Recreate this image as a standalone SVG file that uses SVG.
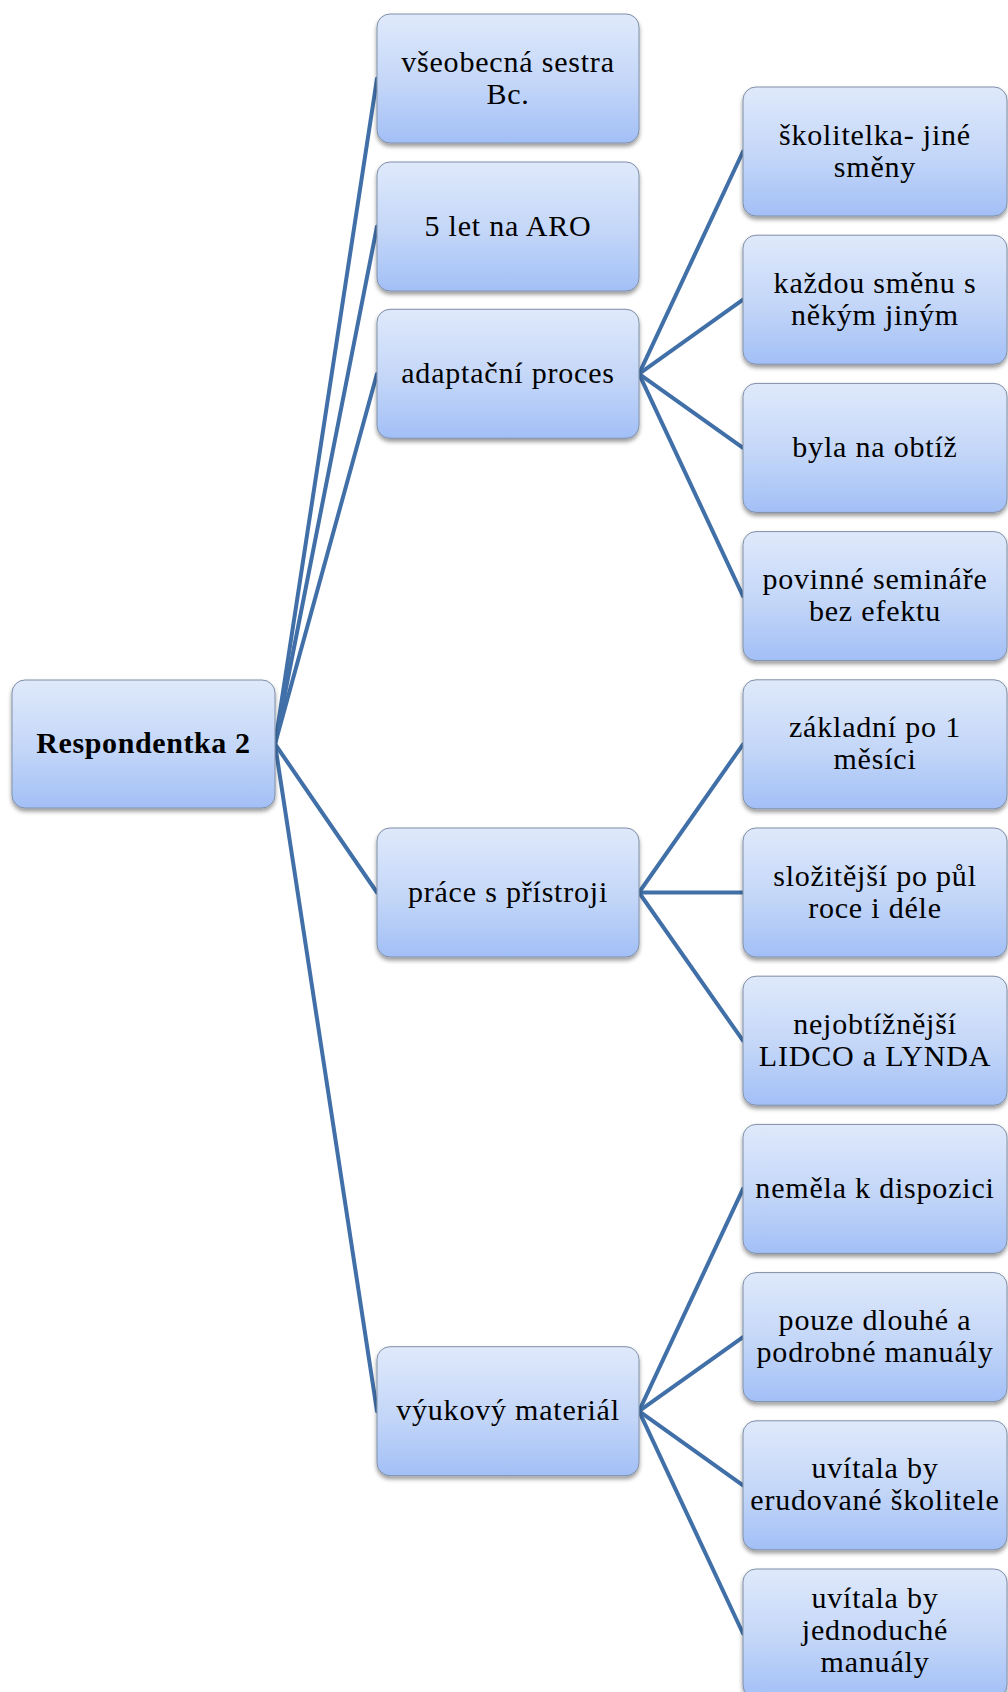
<svg xmlns="http://www.w3.org/2000/svg" width="1008" height="1692" viewBox="0 0 1008 1692">
  <defs>
    <linearGradient id="boxFill" x1="0" y1="0" x2="0" y2="1">
      <stop offset="0" stop-color="#dfe9fb"/>
      <stop offset="0.55" stop-color="#c3d6f8"/>
      <stop offset="1" stop-color="#a2bff6"/>
    </linearGradient>
    <filter id="shadow" x="-10%" y="-10%" width="120%" height="130%">
      <feDropShadow dx="0" dy="3" stdDeviation="2.2" flood-color="#000" flood-opacity="0.4"/>
    </filter>
  </defs>
  <style>
    .box { fill: url(#boxFill); stroke: #8090a8; stroke-width: 1; filter: url(#shadow); }
    .lbl { font-family: "Liberation Serif", "Times New Roman", serif; font-size: 30px; letter-spacing: 0.8px; fill: #000; text-anchor: middle; }
    .root { font-weight: bold; letter-spacing: 0.6px; }
    .edge { stroke: #4170a8; stroke-width: 4; fill: none; stroke-linecap: round; }
  </style>
  <rect width="1008" height="1692" fill="#fff"/>

  <!-- connectors -->
  <g id="connectors">
    <line class="edge" x1="275" y1="744" x2="377" y2="78.5"/>
    <line class="edge" x1="275" y1="744" x2="377" y2="226.5"/>
    <line class="edge" x1="275" y1="744" x2="377" y2="373.8"/>
    <line class="edge" x1="275" y1="744" x2="377" y2="892.5"/>
    <line class="edge" x1="275" y1="744" x2="377" y2="1411.2"/>

    <line class="edge" x1="639" y1="373.8" x2="743" y2="151.5"/>
    <line class="edge" x1="639" y1="373.8" x2="743" y2="299.7"/>
    <line class="edge" x1="639" y1="373.8" x2="743" y2="447.9"/>
    <line class="edge" x1="639" y1="373.8" x2="743" y2="596.1"/>

    <line class="edge" x1="639" y1="892.5" x2="743" y2="744.3"/>
    <line class="edge" x1="639" y1="892.5" x2="743" y2="892.5"/>
    <line class="edge" x1="639" y1="892.5" x2="743" y2="1040.7"/>

    <line class="edge" x1="639" y1="1411.2" x2="743" y2="1188.9"/>
    <line class="edge" x1="639" y1="1411.2" x2="743" y2="1337.1"/>
    <line class="edge" x1="639" y1="1411.2" x2="743" y2="1485.3"/>
    <line class="edge" x1="639" y1="1411.2" x2="743" y2="1633.5"/>
  </g>

  <!-- root -->
  <g id="root">
    <rect class="box" x="12" y="680" width="263" height="128" rx="13"/>
    <text class="lbl root" x="143.5" y="753">Respondentka 2</text>
  </g>

  <!-- first level -->
  <g id="n-vseobecna">
    <rect class="box" x="377" y="14" width="262" height="129" rx="13"/>
    <text class="lbl" x="508" y="71.5">všeobecná sestra</text>
    <text class="lbl" x="508" y="103.5">Bc.</text>
  </g>
  <g id="n-aro">
    <rect class="box" x="377" y="162" width="262" height="129" rx="13"/>
    <text class="lbl" x="508" y="235.5">5 let na ARO</text>
  </g>
  <g id="n-adaptacni">
    <rect class="box" x="377" y="309.3" width="262" height="129" rx="13"/>
    <text class="lbl" x="508" y="382.8">adaptační proces</text>
  </g>
  <g id="n-prace">
    <rect class="box" x="377" y="828" width="262" height="129" rx="13"/>
    <text class="lbl" x="508" y="901.5">práce s přístroji</text>
  </g>
  <g id="n-vyukovy">
    <rect class="box" x="377" y="1346.7" width="262" height="129" rx="13"/>
    <text class="lbl" x="508" y="1420.2">výukový materiál</text>
  </g>

  <!-- second level -->
  <g id="n-skolitelka">
    <rect class="box" x="743" y="87" width="264" height="129" rx="13"/>
    <text class="lbl" x="875" y="144.5">školitelka- jiné</text>
    <text class="lbl" x="875" y="176.5">směny</text>
  </g>
  <g id="n-kazdou">
    <rect class="box" x="743" y="235.2" width="264" height="129" rx="13"/>
    <text class="lbl" x="875" y="292.7">každou směnu s</text>
    <text class="lbl" x="875" y="324.7">někým jiným</text>
  </g>
  <g id="n-obtiz">
    <rect class="box" x="743" y="383.4" width="264" height="129" rx="13"/>
    <text class="lbl" x="875" y="456.9">byla na obtíž</text>
  </g>
  <g id="n-seminare">
    <rect class="box" x="743" y="531.6" width="264" height="129" rx="13"/>
    <text class="lbl" x="875" y="589.1">povinné semináře</text>
    <text class="lbl" x="875" y="621.1">bez efektu</text>
  </g>
  <g id="n-zakladni">
    <rect class="box" x="743" y="679.8" width="264" height="129" rx="13"/>
    <text class="lbl" x="875" y="737.3">základní po 1</text>
    <text class="lbl" x="875" y="769.3">měsíci</text>
  </g>
  <g id="n-slozitejsi">
    <rect class="box" x="743" y="828" width="264" height="129" rx="13"/>
    <text class="lbl" x="875" y="885.5">složitější  po půl</text>
    <text class="lbl" x="875" y="917.5">roce i déle</text>
  </g>
  <g id="n-nejobtiznejsi">
    <rect class="box" x="743" y="976.2" width="264" height="129" rx="13"/>
    <text class="lbl" x="875" y="1033.7">nejobtížnější</text>
    <text class="lbl" x="875" y="1065.7">LIDCO a LYNDA</text>
  </g>
  <g id="n-nemela">
    <rect class="box" x="743" y="1124.4" width="264" height="129" rx="13"/>
    <text class="lbl" x="875" y="1197.9">neměla k dispozici</text>
  </g>
  <g id="n-dlouhe">
    <rect class="box" x="743" y="1272.6" width="264" height="129" rx="13"/>
    <text class="lbl" x="875" y="1330.1">pouze dlouhé a</text>
    <text class="lbl" x="875" y="1362.1">podrobné manuály</text>
  </g>
  <g id="n-skolitele">
    <rect class="box" x="743" y="1420.8" width="264" height="129" rx="13"/>
    <text class="lbl" x="875" y="1478.3">uvítala by</text>
    <text class="lbl" x="875" y="1510.3">erudované školitele</text>
  </g>
  <g id="n-jednoduche">
    <rect class="box" x="743" y="1569" width="264" height="129" rx="13"/>
    <text class="lbl" x="875" y="1608">uvítala by</text>
    <text class="lbl" x="875" y="1640">jednoduché</text>
    <text class="lbl" x="875" y="1672">manuály</text>
  </g>
</svg>
